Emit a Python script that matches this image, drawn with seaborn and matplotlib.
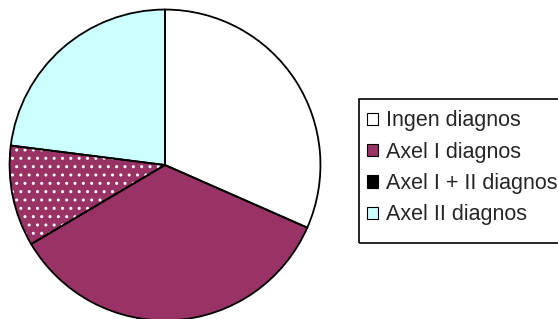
import matplotlib
matplotlib.use("Agg")
import matplotlib.pyplot as plt
import seaborn as sns
from matplotlib.patches import Patch, Rectangle

# data (share of patients, %)
labels = ["Ingen diagnos", "Axel I diagnos", "Axel I + II diagnos", "Axel II diagnos"]
shares = [31.6, 34.9, 10.5, 23.0]
slice_colors = ["#FFFFFF", "#993366", "#993366", "#CCFFFF"]
legend_colors = ["#FFFFFF", "#993366", "#000000", "#CCFFFF"]

sns.set_theme(style="white")
plt.rcParams['font.family'] = ['Liberation Sans', 'DejaVu Sans']

fig = plt.figure(figsize=(5.58, 3.19), dpi=100)
ax = fig.add_axes([8 / 558, -3 / 319, 314 / 558, 314 / 319])

# fill + dotted pattern (hatch takes the edge colour, so edges are white, width 0)
wedges, _ = ax.pie(shares, colors=sns.color_palette(slice_colors), startangle=90,
                   counterclock=False, wedgeprops=dict(edgecolor="white", linewidth=0))
wedges[2].set_hatch("..")

# black outlines on top
ax.pie(shares, startangle=90, counterclock=False,
       wedgeprops=dict(facecolor="none", edgecolor="black", linewidth=1.3))
ax.set_xlim(-1.01, 1.01)
ax.set_ylim(-1.01, 1.01)
ax.set_aspect("equal")

handles = [Patch(facecolor=c, edgecolor="black", linewidth=0.8) for c in legend_colors]
fig.legend(handles, labels, loc="upper left", bbox_to_anchor=(361 / 558, 1 - 104 / 319),
           fontsize=15.5, frameon=False,
           handlelength=0.5, handleheight=0.5, handletextpad=0.35,
           labelspacing=0.48, borderpad=0.3, borderaxespad=0)

# legend box, taller than its entries like the original
fig.patches.append(Rectangle((359 / 558, 1 - 243 / 319), 205 / 558, 144 / 319,
                             transform=fig.transFigure, fill=False,
                             edgecolor="black", linewidth=1.2))

fig.savefig("out.png", dpi=100)
